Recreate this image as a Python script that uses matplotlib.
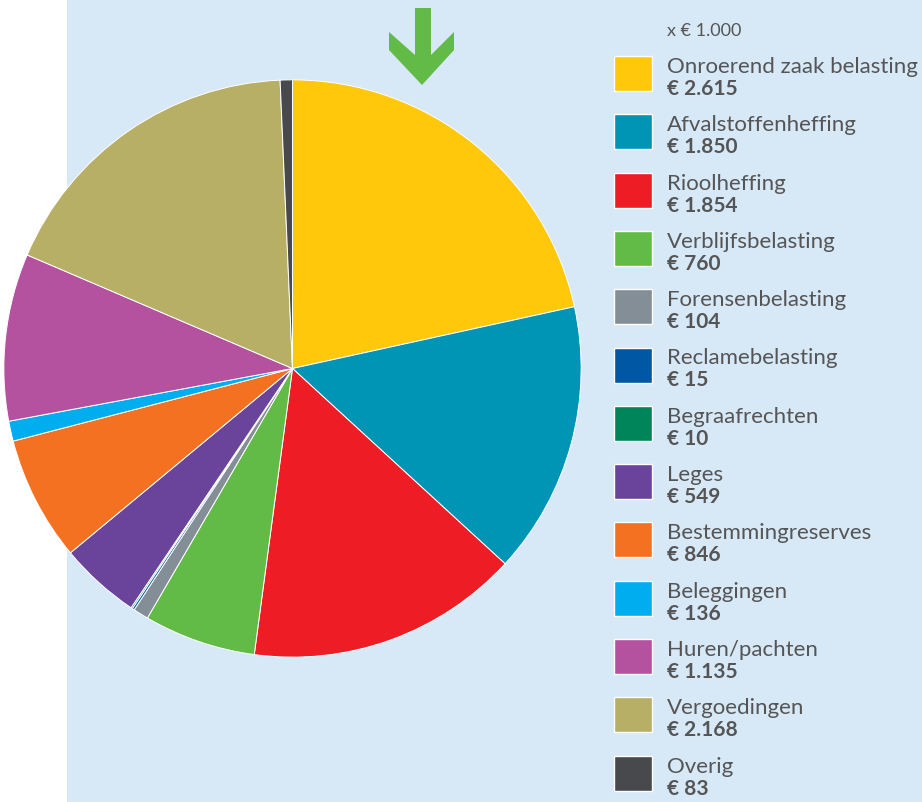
import numpy as np
import matplotlib
matplotlib.use("Agg")
import matplotlib.pyplot as plt
from matplotlib.patches import Rectangle, Polygon

# data (x € 1.000)
labels = ["Onroerend zaak belasting", "Afvalstoffenheffing", "Rioolheffing",
          "Verblijfsbelasting", "Forensenbelasting", "Reclamebelasting",
          "Begraafrechten", "Leges", "Bestemmingreserves", "Beleggingen",
          "Huren/pachten", "Vergoedingen", "Overig"]
values = [2615, 1850, 1854, 760, 104, 15, 10, 549, 846, 136, 1135, 2168, 83]
value_labels = ["€ 2.615", "€ 1.850", "€ 1.854", "€ 760", "€ 104", "€ 15", "€ 10",
                "€ 549", "€ 846", "€ 136", "€ 1.135", "€ 2.168", "€ 83"]
colors = ["#FFC80B", "#0094B5", "#EE1C25", "#62BB46", "#848E96", "#0057A4",
          "#00855A", "#6A449A", "#F37121", "#00AEEF", "#B5529F", "#B8AF66",
          "#47494C"]

W, H = 922, 803
fig = plt.figure(figsize=(W / 100, H / 100), dpi=100)
fig.patch.set_facecolor("white")

# light blue panel (behind the pie)
fig.patches.append(Rectangle((67 / W, 0), 1 - 67 / W, 1, transform=fig.transFigure,
                             facecolor="#D7E8F7", edgecolor="none", zorder=-5))

# pie
cx, cy, r = 292.5, 369.5, 289.5
ax = fig.add_axes([(cx - r) / W, (H - cy - r) / H, 2 * r / W, 2 * r / H])
ax.set_zorder(1)
ax.patch.set_alpha(0)
ax.pie(values, colors=colors, startangle=90, counterclock=False, radius=1,
       wedgeprops=dict(edgecolor="white", linewidth=0.7))
ax.set_xlim(-1.003, 1.003)
ax.set_ylim(-1.003, 1.003)
ax.set_aspect("equal")
ax.axis("off")

# green arrow pointing at the start of the pie
arrow_px = [(415, 9), (431, 9), (431, 56), (454, 33), (454, 51), (422, 86),
            (389, 51), (389, 33), (415, 56)]
fig.patches.append(Polygon([(x / W, 1 - y / H) for x, y in arrow_px], closed=True,
                           transform=fig.transFigure, facecolor="#62BB46",
                           edgecolor="none", zorder=2))

# legend
font = ["Lato", "DejaVu Sans"]
txt = "#555555"
fig.text(667 / W, 1 - 31 / H, "x € 1.000", fontsize=13, color=txt,
         family=font, va="center", ha="left")
top, step = 57, 58.3
for i, (lab, val, col) in enumerate(zip(labels, value_labels, colors)):
    y0 = top + i * step
    fig.patches.append(Rectangle((614 / W, 1 - (y0 + 35) / H), 38 / W, 35 / H,
                                 transform=fig.transFigure, facecolor=col,
                                 edgecolor="white", linewidth=1.0, zorder=2))
    fig.text(667 / W, 1 - (y0 + 10) / H, lab, fontsize=16, color=txt,
             family=font, va="center", ha="left")
    fig.text(667 / W, 1 - (y0 + 32) / H, val, fontsize=15, color=txt,
             family=font, fontweight="bold", va="center", ha="left")

fig.savefig("out.png", dpi=100)
